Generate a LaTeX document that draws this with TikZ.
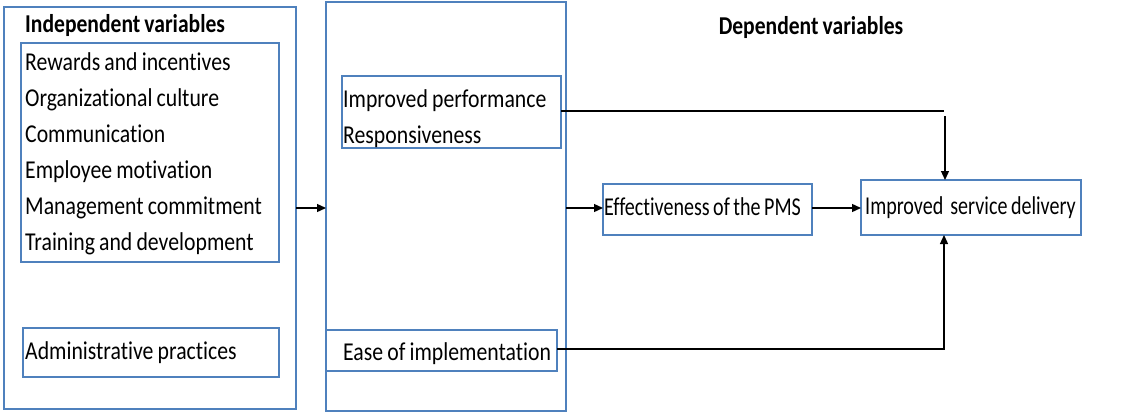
\documentclass[tikz,border=0pt]{standalone}
\usepackage{fontspec}
\setmainfont{Carlito}[FakeStretch=0.78, WordSpace=0.78, Ligatures=NoCommon, BoldFeatures={FakeStretch=0.84, WordSpace=0.84}]
\newfontfamily\widefont{Carlito}[FakeStretch=0.846, WordSpace=0.846, Ligatures=NoCommon]
\usetikzlibrary{arrows.meta}
\definecolor{boxblue}{HTML}{4F81BD}
\newcommand{\fs}{\fontsize{25.7pt}{36pt}\selectfont}
\begin{document}
\begin{tikzpicture}[x=1pt,y=-1pt,
  box/.style={draw=boxblue, line width=1.3pt, inner sep=0pt, outer sep=0pt, anchor=north west},
  txt/.style={font=\fs, align=left, inner sep=0pt, anchor=west},
  txtw/.style={font=\fs\widefont, align=left, inner sep=0pt, anchor=west},
  lbl/.style={font=\fs\bfseries, inner sep=0pt},
  conn/.style={line width=1.3pt, -{Triangle[length=9pt,width=8pt]}},
  plain/.style={line width=1.3pt}]
\useasboundingbox (0,0) rectangle (1139,412);
% left column
\node[box, minimum width=292pt, minimum height=402pt] (outerL) at (4,7) {};
\node[lbl, anchor=base west] (indep) at (25,33) {Independent variables};
\node[box, minimum width=258pt, minimum height=219pt] (factors) at (21,43) {};
\node[txtw] (factorsT) at ([xshift=4pt,yshift=-1pt]factors.west)
  {Rewards and incentives\\Organizational culture\\Communication\\Employee motivation\\Management commitment\\Training and development};
\node[box, minimum width=256pt, minimum height=49pt] (admin) at (23,328) {};
\node[txtw] (adminT) at ([xshift=2pt]admin.west) {Administrative practices};
% middle column
\node[box, minimum width=240pt, minimum height=409pt] (mid) at (326,2) {};
\node[box, minimum width=219pt, minimum height=72pt] (perf) at (342,76) {};
\node[txtw] (perfT) at ([xshift=1pt,yshift=-7pt]perf.west) {Improved performance\\Responsiveness};
\node[box, minimum width=231pt, minimum height=41pt] (ease) at (326,330) {};
\node[txtw] (easeT) at ([xshift=17pt,yshift=-3pt]ease.west) {Ease of implementation};
% right
\node[lbl, anchor=center] (dep) at (811,28) {Dependent variables};
\node[box, minimum width=209pt, minimum height=51pt] (eff) at (603,184) {};
\node[txt] (effT) at ([xshift=1pt,yshift=3pt]eff.west) {Effectiveness of the PMS};
\node[box, minimum width=220pt, minimum height=55pt] (serv) at (861,180) {};
\node[txt] (servT) at ([xshift=4pt]serv.west) {Improved\ \ service delivery};
% connectors
\draw[conn] (outerL.east |- 0,208) -- (mid.west |- 0,208);
\draw[conn] (mid.east |- 0,208) -- (eff.west |- 0,208);
\draw[conn] (eff.east |- 0,208) -- (serv.west |- 0,208);
\coordinate (topcorner) at (944,111);
\coordinate (topstart) at (945,116);
\draw[plain] (perf.east |- topcorner) -- (topcorner);
\draw[conn] (topstart) -- (topstart |- serv.north);
\coordinate (botcorner) at (944,349);
\draw[conn] (ease.east |- botcorner) -- (botcorner) -- (botcorner |- serv.south);
\end{tikzpicture}
\end{document}
